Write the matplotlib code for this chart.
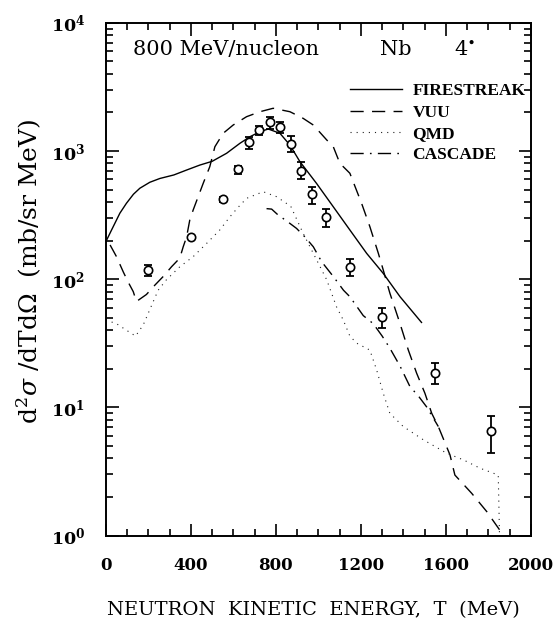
import matplotlib
matplotlib.use('Agg')
import matplotlib.pyplot as plt
from matplotlib.ticker import MultipleLocator, LogLocator, NullFormatter

plt.rcParams['font.family'] = 'DejaVu Serif'
plt.rcParams['mathtext.fontset'] = 'dejavuserif'

# experimental points (T in MeV, cross section in mb/sr MeV)
T_exp = [200, 400, 550, 623, 675, 720, 772, 820, 870, 920, 970, 1037, 1147, 1300, 1548, 1812]
y_exp = [118, 214, 420, 719, 1168, 1456, 1672, 1545, 1133, 701, 459, 307, 125, 51, 18.7, 6.5]
y_lo = [105, 214, 402, 661, 1030, 1331, 1475, 1373, 976, 601, 386, 257, 105, 42, 15.2, 4.4]
y_hi = [129, 214, 440, 763, 1277, 1574, 1850, 1690, 1308, 815, 520, 352, 143, 60, 22.3, 8.6]

# model curves
T_fs = [0, 27, 66, 97, 130, 160, 207, 254, 320, 380, 442, 500, 568, 631, 678, 725, 764,
        819, 866, 913, 991, 1070, 1148, 1227, 1305, 1384, 1485]
y_fs = [196, 242, 327, 391, 460, 512, 570, 610, 650, 710, 776, 830, 959, 1148, 1291, 1413, 1483,
        1373, 1112, 825, 559, 367, 242, 159, 111, 73, 46]

T_vuu = [20, 50, 82, 105, 129, 144, 191, 231, 270, 309, 348, 364, 380, 395, 411, 458, 489,
         513, 552, 599, 662, 725, 787, 866, 928, 976, 1039, 1070, 1101, 1148, 1203, 1242,
         1282, 1305, 1336, 1384, 1423, 1462, 1501, 1533, 1564, 1619, 1642, 1721, 1792, 1854]
y_vuu = [185, 150, 114, 95, 80, 67, 76, 90, 105, 125, 146, 179, 214, 290, 347, 559, 754,
         1079, 1373, 1593, 1850, 2023, 2152, 2023, 1797, 1593, 1219, 1079, 801, 670, 391, 257,
         159, 118, 78, 45, 28, 18.5, 12.9, 9.0, 7.1, 4.26, 2.97, 2.14, 1.54, 1.1]

T_qmd = [0, 50, 97, 140, 176, 207, 246, 285, 348, 411, 474, 536, 584, 620, 662, 740, 803,
         870, 928, 976, 1039, 1085, 1117, 1148, 1180, 1242, 1274, 1305, 1336, 1399, 1493,
         1603, 1682, 1760, 1846, 1852]
y_qmd = [48, 45, 40, 36, 44, 58, 82, 99, 125, 150, 190, 242, 307, 360, 427, 481, 440,
         370, 228, 159, 99, 61, 48, 36, 31.7, 28, 19.6, 12.9, 9.0, 7.1, 5.6,
         4.4, 3.9, 3.36, 2.97, 1.0]

T_cas = [756, 780, 811, 850, 897, 936, 976, 1015, 1070, 1118, 1148, 1211, 1258, 1300,
         1336, 1384, 1431, 1470, 1509, 1564]
y_cas = [355, 352, 316, 285, 249, 214, 179, 137, 105, 82, 73, 52, 45, 36,
         29, 21, 14.5, 12.3, 10.1, 7.1]

labels = ['FIRESTREAK', 'VUU', 'QMD', 'CASCADE']
xticks = [0, 400, 800, 1200, 1600, 2000]
yticks = [1, 10, 100, 1000, 10000]
ytick_labels = [r'$\mathbf{10^0}$', r'$\mathbf{10^1}$', r'$\mathbf{10^2}$',
                r'$\mathbf{10^3}$', r'$\mathbf{10^4}$']

fig = plt.figure(figsize=(5.57, 6.26), dpi=100)
ax = fig.add_axes([0.190, 0.1443, 0.7633, 0.8194])

l1, = ax.plot(T_fs, y_fs, color='black', lw=1.0)
l2, = ax.plot(T_vuu, y_vuu, color='black', lw=1.0, dashes=(9.5, 6))
l3, = ax.plot(T_qmd, y_qmd, color='#222222', lw=0.8, dashes=(1, 4.5))
l4, = ax.plot(T_cas, y_cas, color='black', lw=1.0, dashes=(9.5, 4.5, 1.2, 4.5))

# error bars (the point at 400 MeV has none)
with_err = [i for i in range(len(T_exp)) if y_hi[i] > y_lo[i]]
ax.errorbar([T_exp[i] for i in with_err], [y_exp[i] for i in with_err],
            yerr=[[y_exp[i] - y_lo[i] for i in with_err], [y_hi[i] - y_exp[i] for i in with_err]],
            fmt='none', ecolor='black', elinewidth=1.3, capsize=3.2, capthick=1.3, zorder=4)
ax.plot(T_exp, y_exp, 'o', ms=6, mfc='white', mec='black', mew=1.2, zorder=5)

ax.set_yscale('log')
ax.set_xlim(0, 2000)
ax.set_ylim(1, 1e4)
ax.set_xticks(xticks)
ax.set_xticklabels([str(t) for t in xticks], fontweight='bold', fontsize=12)
ax.xaxis.set_minor_locator(MultipleLocator(100))
ax.set_yticks(yticks)
ax.set_yticklabels(ytick_labels, fontsize=12.5)
ax.yaxis.set_minor_locator(LogLocator(base=10, subs=range(2, 10)))
ax.yaxis.set_minor_formatter(NullFormatter())

ax.tick_params(which='both', direction='in', top=True, right=True, width=1.2)
ax.tick_params(which='major', length=9, pad=15)
ax.tick_params(which='minor', length=4.8)
for s in ax.spines.values():
    s.set_linewidth(1.4)

ax.set_xlabel('NEUTRON  KINETIC  ENERGY,  T  (MeV)', fontsize=14)
ax.xaxis.set_label_coords(0.489, -0.128)
ax.set_ylabel(r'd$^2\sigma$ /dTd$\Omega$  (mb/sr MeV)', fontsize=18)
ax.yaxis.set_label_coords(-0.145, 0.516)

ax.text(0.063, 0.947, '800 MeV/nucleon', transform=ax.transAxes, fontsize=15, va='center')
ax.text(0.645, 0.947, 'Nb', transform=ax.transAxes, fontsize=15, va='center')
ax.text(0.819, 0.947, r'4$^{\!\bullet}$', transform=ax.transAxes, fontsize=15, va='center')

ax.legend([l1, l2, l3, l4], labels, loc='upper left', bbox_to_anchor=(0.574, 0.882),
          frameon=False, handlelength=3.0, handletextpad=0.6, labelspacing=0.3,
          borderpad=0, borderaxespad=0,
          prop={'family': 'Liberation Serif', 'weight': 'bold', 'size': 12.5})

fig.savefig('out.png', dpi=100)
